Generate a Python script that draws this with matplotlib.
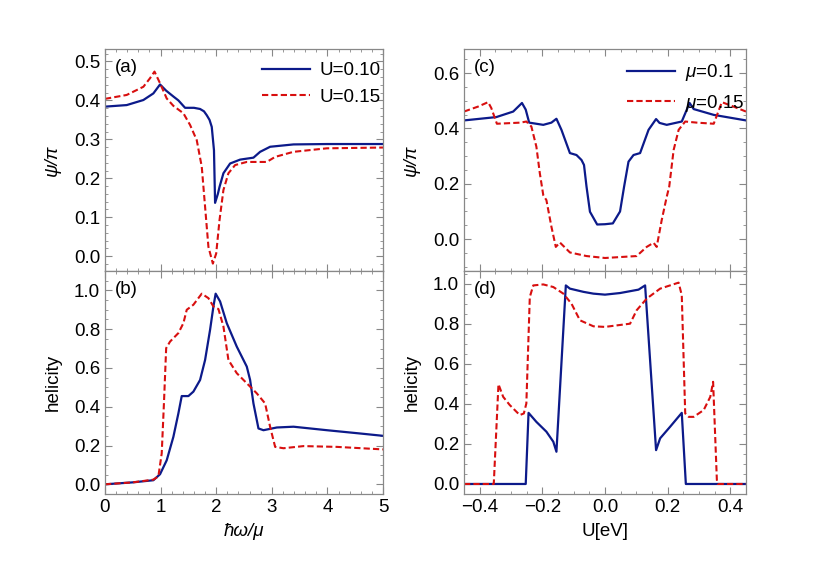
import numpy as np
import matplotlib
matplotlib.use("Agg")
import matplotlib.pyplot as plt
from matplotlib.ticker import MultipleLocator

plt.rcParams['font.family'] = ['Liberation Sans', 'DejaVu Sans']
plt.rcParams['mathtext.fontset'] = 'custom'
plt.rcParams['mathtext.it'] = 'Liberation Sans:italic'
plt.rcParams['mathtext.rm'] = 'Liberation Sans'

# panel (a): psi/pi vs hbar*omega/mu
wa_u10 = [0, 0.39, 0.69, 0.87, 0.99, 1.1, 1.23, 1.32, 1.44, 1.6, 1.71, 1.78, 1.83, 1.88, 1.92, 1.96, 1.98, 2.03, 2.06, 2.13, 2.25, 2.43, 2.67, 2.79, 2.97, 3.39, 4.0, 5.0]
psi_u10 = [0.384, 0.388, 0.401, 0.418, 0.441, 0.425, 0.410, 0.400, 0.381, 0.381, 0.378, 0.372, 0.362, 0.350, 0.332, 0.272, 0.137, 0.160, 0.178, 0.213, 0.238, 0.248, 0.253, 0.268, 0.281, 0.287, 0.288, 0.288]
wa_u15 = [0, 0.39, 0.69, 0.81, 0.89, 0.99, 1.11, 1.23, 1.41, 1.53, 1.65, 1.74, 1.80, 1.86, 1.94, 2.0, 2.06, 2.13, 2.22, 2.34, 2.55, 2.91, 3.06, 3.39, 3.99, 5.0]
psi_u15 = [0.404, 0.414, 0.435, 0.457, 0.474, 0.444, 0.405, 0.386, 0.367, 0.337, 0.298, 0.230, 0.127, 0.024, -0.019, 0.007, 0.093, 0.170, 0.213, 0.234, 0.242, 0.242, 0.255, 0.268, 0.277, 0.279]

# panel (b): helicity vs hbar*omega/mu
wb_u10 = [0, 0.5, 0.87, 0.99, 1.11, 1.23, 1.32, 1.38, 1.5, 1.59, 1.71, 1.80, 1.89, 1.95, 1.99, 2.07, 2.19, 2.37, 2.55, 2.61, 2.67, 2.76, 2.85, 3.09, 3.39, 3.99, 4.59, 5.0]
hel_u10 = [0.0, 0.010, 0.021, 0.052, 0.124, 0.245, 0.366, 0.455, 0.455, 0.478, 0.538, 0.641, 0.797, 0.917, 0.983, 0.943, 0.831, 0.710, 0.607, 0.538, 0.417, 0.288, 0.279, 0.293, 0.297, 0.279, 0.262, 0.250]
wb_u15 = [0, 0.5, 0.87, 0.96, 1.02, 1.06, 1.10, 1.17, 1.32, 1.41, 1.47, 1.59, 1.74, 1.86, 1.95, 2.04, 2.13, 2.22, 2.37, 2.55, 2.73, 2.88, 2.97, 3.06, 3.21, 3.57, 4.17, 5.0]
hel_u15 = [0.0, 0.010, 0.024, 0.041, 0.159, 0.417, 0.702, 0.736, 0.780, 0.831, 0.900, 0.926, 0.983, 0.960, 0.917, 0.904, 0.814, 0.641, 0.573, 0.521, 0.469, 0.417, 0.296, 0.193, 0.186, 0.197, 0.193, 0.180]

# panel (c): psi/pi vs U
uc_m10 = [-0.45, -0.347, -0.293, -0.265, -0.253, -0.242, -0.197, -0.171, -0.155, -0.139, -0.112, -0.091, -0.075, -0.067, -0.059, -0.048, -0.025, 0.0, 0.025, 0.048, 0.061, 0.075, 0.091, 0.112, 0.139, 0.163, 0.174, 0.197, 0.245, 0.27, 0.283, 0.347, 0.45]
psi_m10 = [0.429, 0.441, 0.461, 0.492, 0.468, 0.421, 0.413, 0.421, 0.435, 0.395, 0.311, 0.304, 0.286, 0.268, 0.190, 0.099, 0.053, 0.054, 0.057, 0.100, 0.190, 0.280, 0.304, 0.311, 0.395, 0.434, 0.420, 0.413, 0.425, 0.492, 0.470, 0.449, 0.429]
uc_m15 = [-0.45, -0.405, -0.373, -0.363, -0.345, -0.27, -0.251, -0.235, -0.219, -0.208, -0.197, -0.187, -0.171, -0.157, -0.144, -0.112, -0.059, 0.0, 0.101, 0.133, 0.155, 0.165, 0.181, 0.197, 0.205, 0.219, 0.235, 0.256, 0.293, 0.347, 0.373, 0.41, 0.45]
psi_m15 = [0.461, 0.479, 0.495, 0.474, 0.417, 0.421, 0.425, 0.407, 0.334, 0.238, 0.159, 0.141, 0.045, -0.028, -0.012, -0.048, -0.061, -0.068, -0.061, -0.028, -0.013, -0.028, 0.069, 0.153, 0.190, 0.322, 0.395, 0.425, 0.421, 0.417, 0.495, 0.479, 0.461]

# panel (d): helicity vs U
ud_m10 = [-0.45, -0.253, -0.244, -0.219, -0.187, -0.165, -0.155, -0.125, -0.112, -0.069, -0.037, 0.0, 0.048, 0.107, 0.128, 0.163, 0.176, 0.208, 0.245, 0.258, 0.45]
hel_m10 = [0.0, 0.0, 0.355, 0.310, 0.261, 0.211, 0.161, 0.991, 0.975, 0.959, 0.950, 0.945, 0.953, 0.970, 0.991, 0.169, 0.228, 0.286, 0.355, 0.0, 0.0]
ud_m15 = [-0.45, -0.355, -0.34, -0.325, -0.304, -0.272, -0.259, -0.251, -0.24, -0.229, -0.197, -0.165, -0.133, -0.107, -0.08, -0.037, 0.0, 0.08, 0.101, 0.133, 0.176, 0.235, 0.245, 0.256, 0.267, 0.283, 0.315, 0.336, 0.345, 0.357, 0.36, 0.45]
hel_m15 = [0.0, 0.0, 0.498, 0.435, 0.394, 0.344, 0.352, 0.402, 0.933, 0.991, 0.996, 0.983, 0.950, 0.900, 0.817, 0.787, 0.784, 0.800, 0.867, 0.925, 0.975, 1.005, 0.942, 0.352, 0.335, 0.335, 0.369, 0.435, 0.510, 0.020, 0.0, 0.0]

blue = '#0c1a8a'
red = '#d80f0f'
dash = (3, 1.5)

fig = plt.figure(figsize=(8.17, 5.72), dpi=100)
W, H = 817.0, 572.0
def box(x0, x1, y0, y1):
	return [x0/W, 1-y1/H, (x1-x0)/W, (y1-y0)/H]

ax_a = fig.add_axes(box(105, 383, 49, 271))
ax_b = fig.add_axes(box(105, 383, 271, 494))
ax_c = fig.add_axes(box(464, 746, 49, 271))
ax_d = fig.add_axes(box(464, 746, 271, 494))

ax_a.plot(wa_u10, psi_u10, color=blue, lw=1.6, label='U=0.10')
ax_a.plot(wa_u15, psi_u15, color=red, lw=1.5, dashes=dash, label='U=0.15')
ax_b.plot(wb_u10, hel_u10, color=blue, lw=1.6)
ax_b.plot(wb_u15, hel_u15, color=red, lw=1.5, dashes=dash)
ax_c.plot(uc_m10, psi_m10, color=blue, lw=1.6, label=r'$\mu$=0.1')
ax_c.plot(uc_m15, psi_m15, color=red, lw=1.5, dashes=dash, label=r'$\mu$=0.15')
ax_d.plot(ud_m10, hel_m10, color=blue, lw=1.6)
ax_d.plot(ud_m15, hel_m15, color=red, lw=1.5, dashes=dash)

ax_a.set_xlim(0, 5); ax_b.set_xlim(0, 5)
ax_a.set_ylim(-0.038, 0.532)
ax_b.set_ylim(-0.05, 1.10)
ax_c.set_xlim(-0.45, 0.45); ax_d.set_xlim(-0.45, 0.45)
ax_c.set_ylim(-0.115, 0.687)
ax_d.set_ylim(-0.05, 1.063)

for ax in (ax_a, ax_b):
	ax.xaxis.set_major_locator(MultipleLocator(1))
	ax.xaxis.set_minor_locator(MultipleLocator(0.2))
for ax in (ax_c, ax_d):
	ax.xaxis.set_major_locator(MultipleLocator(0.2))
	ax.xaxis.set_minor_locator(MultipleLocator(0.05))
ax_a.yaxis.set_major_locator(MultipleLocator(0.1))
ax_a.yaxis.set_minor_locator(MultipleLocator(0.02))
for ax in (ax_b, ax_c, ax_d):
	ax.yaxis.set_major_locator(MultipleLocator(0.2))
	ax.yaxis.set_minor_locator(MultipleLocator(0.05))

for ax in (ax_a, ax_b, ax_c, ax_d):
	ax.tick_params(which='both', direction='in', top=True, right=True, color='#888888', labelsize=13.5, pad=3.5)
	ax.tick_params(which='major', length=5, width=0.8)
	ax.tick_params(which='minor', length=2.5, width=0.6)
	for s in ax.spines.values():
		s.set_color('#888888')
		s.set_linewidth(0.9)
ax_a.set_xticklabels([])
ax_c.set_xticklabels([])
for ax in (ax_a, ax_b, ax_c, ax_d):
	ax.yaxis.set_major_formatter(matplotlib.ticker.FormatStrFormatter('%.1f'))
ax_d.xaxis.set_major_formatter(matplotlib.ticker.FuncFormatter(lambda v, p: ('%.1f' % v).replace('-', '\u2212') if abs(v) > 1e-9 else '0.0'))

ax_a.set_ylabel('ψ/π', fontsize=13.5, style='italic', labelpad=9)
ax_b.set_ylabel('helicity', fontsize=13.5, labelpad=9)
ax_c.set_ylabel('ψ/π', fontsize=13.5, style='italic', labelpad=9)
ax_d.set_ylabel('helicity', fontsize=13.5, labelpad=9)
ax_b.set_xlabel('ħω/μ', fontsize=13.5, style='italic', labelpad=5)
ax_d.set_xlabel('U[eV]', fontsize=13.5, labelpad=5)

for ax, t in ((ax_a, '(a)'), (ax_b, '(b)'), (ax_c, '(c)'), (ax_d, '(d)')):
	ax.text(0.035, 0.895, t, transform=ax.transAxes, fontsize=13.5)

for ax in (ax_a, ax_c):
	ax.legend(loc='upper right', frameon=False, fontsize=13.5, handlelength=2.6, handletextpad=0.5,
		labelspacing=0.5, borderaxespad=0.3, bbox_to_anchor=(1.04, 1.0))

fig.savefig('out.png', dpi=100)
